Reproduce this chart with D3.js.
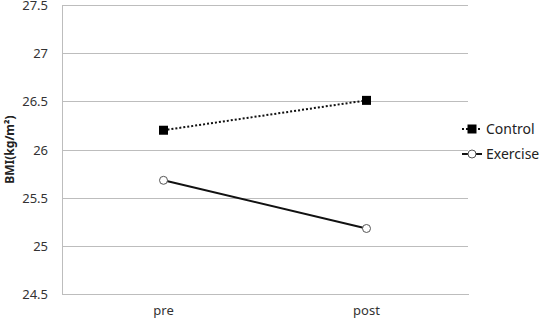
<!DOCTYPE html>
<html lang="en">
  <head>
    <meta charset="UTF-8" />
    <title>BMI pre/post</title>
    <script src="https://d3js.org/d3.v7.min.js"></script>
    <style>
      body { margin: 0; background: #fff; }
      text { font-family: "Noto Sans", "DejaVu Sans", sans-serif; fill: #222; }
      .grid line { stroke: #bdbdbd; }
      .grid path { display: none; }
    </style>
  </head>
  <body>
    <div id="chart"></div>
    <script>
      const periods = ["pre", "post"];
      const control = [26.2, 26.51];
      const exercise = [25.68, 25.18];
      const yTicks = [24.5, 25, 25.5, 26, 26.5, 27, 27.5];

      const width = 542, height = 321;
      const margin = { left: 62, right: 74, top: 5, bottom: 27 };

      const svg = d3.select("#chart").append("svg").attr("width", width).attr("height", height);

      const x = d3.scaleBand().domain(periods).range([margin.left, width - margin.right]);
      const y = d3.scaleLinear().domain([24.5, 27.5]).range([height - margin.bottom, margin.top]);

      // horizontal gridlines
      svg.append("g")
        .attr("class", "grid")
        .attr("transform", `translate(${margin.left},0)`)
        .call(d3.axisLeft(y).tickValues(yTicks).tickSize(-(width - margin.left - margin.right)).tickFormat(""))
        .selectAll("line").attr("shape-rendering", "crispEdges");

      // left axis line + labels
      const yAxis = svg.append("g")
        .attr("transform", `translate(${margin.left},0)`)
        .call(d3.axisLeft(y).tickValues(yTicks).tickSize(0).tickPadding(14).tickFormat(d3.format("")));
      yAxis.select(".domain").attr("stroke", "#bdbdbd").attr("shape-rendering", "crispEdges");
      yAxis.selectAll("text").attr("font-size", 13).style("fill", "#333").attr("dy", "0.35em");

      // bottom axis line + labels
      const xAxis = svg.append("g")
        .attr("transform", `translate(0,${height - margin.bottom})`)
        .call(d3.axisBottom(x).tickSize(0).tickPadding(12));
      xAxis.select(".domain").attr("stroke", "#bdbdbd").attr("shape-rendering", "crispEdges");
      xAxis.selectAll("text").attr("font-size", 13).style("fill", "#333");

      // y title
      svg.append("text")
        .attr("transform", `translate(14,${(margin.top + height - margin.bottom) / 2}) rotate(-90)`)
        .attr("text-anchor", "middle")
        .attr("font-size", 12)
        .attr("font-weight", "bold")
        .text("BMI(kg/m²)");

      const cx = (d) => x(d) + x.bandwidth() / 2;
      const line = d3.line().x((d, i) => cx(periods[i])).y((d) => y(d));

      // Control: dotted line with filled squares
      svg.append("path")
        .datum(control)
        .attr("d", line)
        .attr("fill", "none")
        .attr("stroke", "#111")
        .attr("stroke-width", 2)
        .attr("stroke-dasharray", "2,2");
      svg.selectAll(".sq")
        .data(control)
        .enter()
        .append("rect")
        .attr("x", (d, i) => cx(periods[i]) - 4.5)
        .attr("y", (d) => y(d) - 4.5)
        .attr("width", 9)
        .attr("height", 9)
        .attr("fill", "#000");

      // Exercise: solid line with open circles
      svg.append("path")
        .datum(exercise)
        .attr("d", line)
        .attr("fill", "none")
        .attr("stroke", "#111")
        .attr("stroke-width", 2);
      svg.selectAll(".ci")
        .data(exercise)
        .enter()
        .append("circle")
        .attr("cx", (d, i) => cx(periods[i]))
        .attr("cy", (d) => y(d))
        .attr("r", 4)
        .attr("fill", "#fff")
        .attr("stroke", "#555")
        .attr("stroke-width", 1);

      // legend
      const legend = svg.append("g").attr("transform", "translate(462,129)");
      legend.append("line").attr("x1", 0).attr("x2", 20).attr("y1", 0).attr("y2", 0)
        .attr("stroke", "#111").attr("stroke-width", 2).attr("stroke-dasharray", "2,2");
      legend.append("rect").attr("x", 5.5).attr("y", -4.5).attr("width", 9).attr("height", 9).attr("fill", "#000");
      legend.append("text").attr("x", 24).attr("y", 0).attr("dy", "0.35em").attr("font-size", 14).text("Control");

      const leg2 = svg.append("g").attr("transform", "translate(462,154)");
      leg2.append("line").attr("x1", 0).attr("x2", 20).attr("y1", 0).attr("y2", 0)
        .attr("stroke", "#111").attr("stroke-width", 2);
      leg2.append("circle").attr("cx", 10).attr("cy", 0).attr("r", 4).attr("fill", "#fff").attr("stroke", "#555");
      leg2.append("text").attr("x", 24).attr("y", 0).attr("dy", "0.35em").attr("font-size", 14).text("Exercise");
    </script>
  </body>
</html>
